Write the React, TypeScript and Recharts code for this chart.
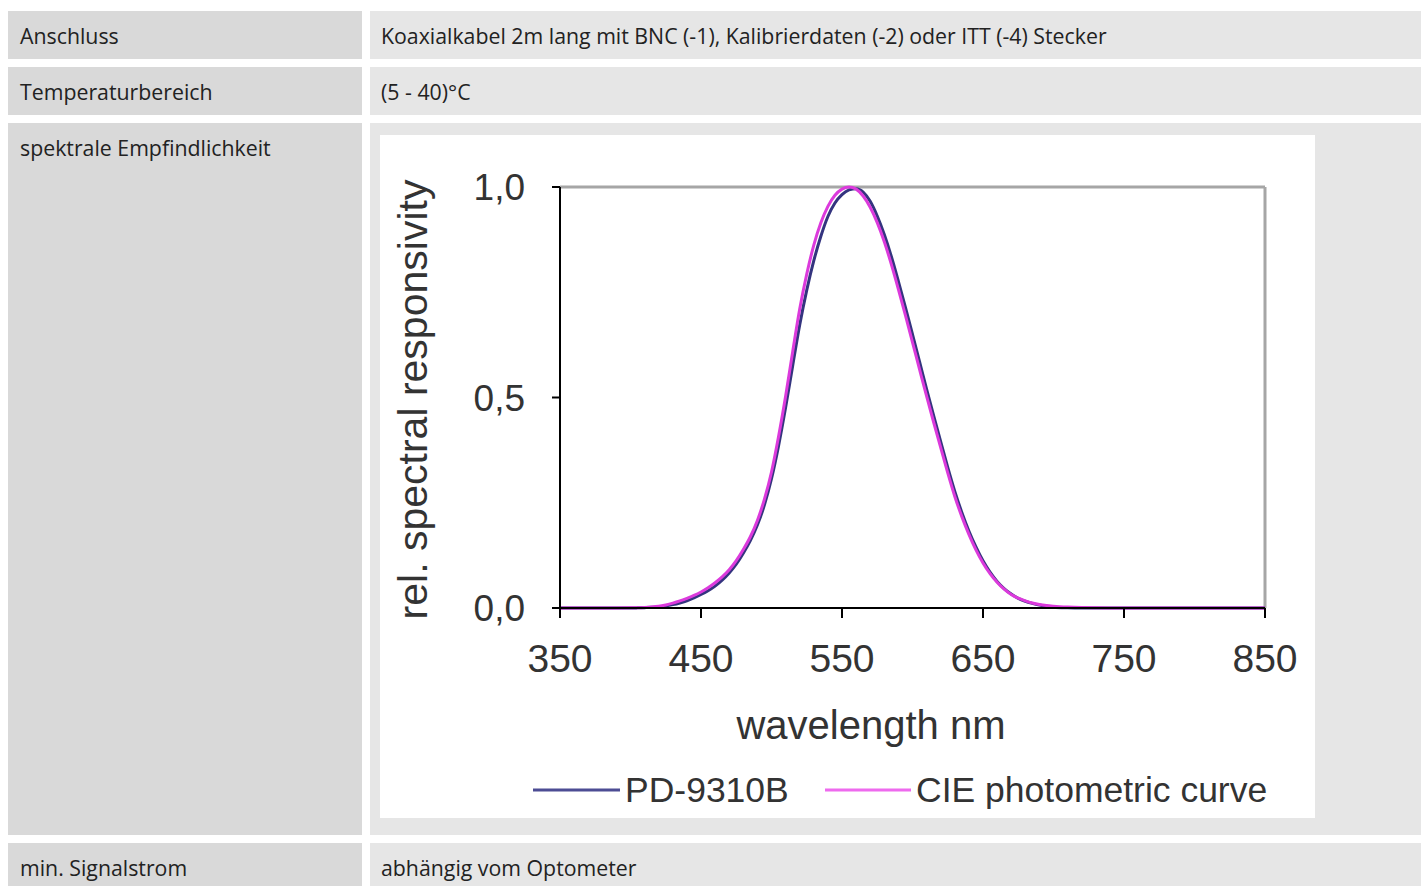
import React from 'react';
import { LineChart, Line, XAxis, YAxis, ReferenceLine, Legend } from 'recharts';

const wavelengths = [
  350, 360, 370, 380, 390, 400, 405, 410, 415, 420, 425, 430, 435, 440, 445, 450,
  455, 460, 465, 470, 475, 480, 485, 490, 495, 500, 505, 510, 515, 520, 525, 530,
  535, 540, 545, 550, 555, 560, 565, 570, 575, 580, 585, 590, 595, 600, 605, 610,
  615, 620, 625, 630, 635, 640, 645, 650, 655, 660, 665, 670, 675, 680, 685, 690,
  695, 700, 710, 720, 730, 740, 750, 760, 770, 780, 790, 800, 810, 820, 830, 840, 850,
];

const cieCurve = [
  0, 0, 0, 0.00004, 0.00012, 0.0004, 0.0006, 0.0012, 0.0022, 0.004, 0.0073, 0.0116, 0.0168, 0.023, 0.0298, 0.038,
  0.048, 0.06, 0.0739, 0.091, 0.1126, 0.139, 0.1693, 0.208, 0.2586, 0.323, 0.4073, 0.503, 0.6082, 0.71, 0.7932, 0.862,
  0.9149, 0.954, 0.9803, 0.995, 1.0, 0.995, 0.9786, 0.952, 0.9154, 0.87, 0.8163, 0.757, 0.6949, 0.631, 0.5668, 0.503,
  0.4412, 0.381, 0.321, 0.265, 0.217, 0.175, 0.1382, 0.107, 0.0816, 0.061, 0.0446, 0.032, 0.0232, 0.017, 0.0119, 0.0082,
  0.0057, 0.0041, 0.0021, 0.001, 0.0005, 0.00025, 0.00012, 0.00006, 0.00003, 0.000015, 0, 0, 0, 0, 0, 0, 0,
];

const pdCurve = [
  0, 0, 0, 0, 0, 0, 0.0003, 0.0008, 0.0015, 0.003, 0.005, 0.008, 0.012, 0.017, 0.024, 0.032,
  0.041, 0.052, 0.066, 0.083, 0.104, 0.13, 0.16, 0.197, 0.245, 0.307, 0.385, 0.476, 0.575, 0.672, 0.755, 0.825,
  0.883, 0.93, 0.962, 0.982, 0.993, 0.996, 0.988, 0.966, 0.931, 0.887, 0.835, 0.776, 0.714, 0.65, 0.585, 0.52,
  0.457, 0.395, 0.334, 0.277, 0.227, 0.183, 0.145, 0.112, 0.085, 0.063, 0.046, 0.033, 0.023, 0.016, 0.011, 0.007,
  0.004, 0.002, 0.0005, 0, 0, 0, 0, 0, 0, 0, 0, 0, 0, 0, 0, 0, 0,
];

const xTicks = [350, 450, 550, 650, 750, 850];
const yTicks = [0, 0.5, 1];
const yTickLabels = ['0,0', '0,5', '1,0'];

const seriesNames = ['PD-9310B', 'CIE photometric curve'];
const seriesColors = ['#34347f', '#dc3adc'];
const legendColors = ['#4c4c94', '#ee6aee'];

const tableRows = [
  { label: 'Anschluss', value: 'Koaxialkabel 2m lang mit BNC (-1), Kalibrierdaten (-2) oder ITT (-4) Stecker' },
  { label: 'Temperaturbereich', value: '(5 - 40)°C' },
  { label: 'spektrale Empfindlichkeit', value: '' },
  { label: 'min. Signalstrom', value: 'abhängig vom Optometer' },
];

const data = wavelengths.map((wl, i) => ({ wl, pd: pdCurve[i], cie: cieCurve[i] }));

const chartFont = '"Liberation Sans", Arial, sans-serif';
const textFill = '#333333';

const rowTops = [11, 67, 123, 843];
const rowHeights = [48, 48, 712, 60];

const YLabel = (props: any) => {
  const vb = props.viewBox || {};
  const cx = vb.x + vb.width - 147;
  const cy = vb.y + vb.height / 2 + 2;
  return (
    <text
      x={cx}
      y={cy}
      transform={`rotate(-90, ${cx}, ${cy})`}
      textAnchor="middle"
      dominantBaseline="central"
      fontSize={41}
      fontFamily={chartFont}
      fill={textFill}
    >
      rel. spectral responsivity
    </text>
  );
};

const XLabel = (props: any) => {
  const vb = props.viewBox || {};
  return (
    <text
      x={vb.x + 311}
      y={vb.y + 131}
      textAnchor="middle"
      fontSize={40}
      fontFamily={chartFont}
      fill={textFill}
    >
      wavelength nm
    </text>
  );
};

const legendLayout = [
  { x1: 153, x2: 240 },
  { x1: 445, x2: 531 },
];

const LegendContent = () => (
  <svg width={935} height={60} style={{ display: 'block' }}>
    {seriesNames.map((name, i) => (
      <g key={name}>
        <line
          x1={legendLayout[i].x1}
          x2={legendLayout[i].x2}
          y1={35}
          y2={35}
          stroke={legendColors[i]}
          strokeWidth={3}
        />
        <text
          x={legendLayout[i].x2 + 5}
          y={47}
          fontSize={35.5}
          fontFamily={chartFont}
          fill={textFill}
        >
          {name}
        </text>
      </g>
    ))}
  </svg>
);

export default function App() {
  return (
    <div
      style={{
        position: 'fixed',
        left: 0,
        top: 0,
        width: 1421,
        height: 886,
        overflow: 'hidden',
        background: '#ffffff',
        fontFamily: '"Open Sans", sans-serif',
        fontSize: 21.3,
        color: '#222222',
      }}
    >
      {tableRows.map((row, i) => (
        <React.Fragment key={row.label}>
          <div
            style={{
              position: 'absolute',
              left: 8,
              top: rowTops[i],
              width: 354,
              height: rowHeights[i],
              background: '#d9d9d9',
            }}
          >
            <div style={{ position: 'absolute', left: 12, top: 10, lineHeight: '29px', whiteSpace: 'nowrap' }}>
              {row.label}
            </div>
          </div>
          <div
            style={{
              position: 'absolute',
              left: 370,
              top: rowTops[i],
              width: 1051,
              height: rowHeights[i],
              background: '#e6e6e6',
            }}
          >
            {row.value ? (
              <div style={{ position: 'absolute', left: 11, top: 10, lineHeight: '29px', whiteSpace: 'nowrap' }}>
                {row.value}
              </div>
            ) : null}
          </div>
        </React.Fragment>
      ))}

      <div style={{ position: 'absolute', left: 380, top: 135, width: 935, height: 683, background: '#ffffff' }}>
        <LineChart
          width={935}
          height={683}
          data={data}
          margin={{ top: 52, right: 50, bottom: 0, left: 0 }}
        >
          <XAxis
            dataKey="wl"
            type="number"
            domain={[350, 850]}
            ticks={xTicks}
            allowDataOverflow
            height={210}
            tickSize={10}
            tickMargin={26}
            axisLine={{ stroke: '#000000', strokeWidth: 2 }}
            tickLine={{ stroke: '#000000', strokeWidth: 2 }}
            tick={{ fontSize: 39, fill: textFill, fontFamily: chartFont }}
            label={<XLabel />}
          />
          <YAxis
            type="number"
            domain={[0, 1]}
            ticks={yTicks}
            width={180}
            tickSize={8}
            tickMargin={27}
            tickFormatter={(v: number) => yTickLabels[yTicks.indexOf(v)]}
            axisLine={{ stroke: '#000000', strokeWidth: 2 }}
            tickLine={{ stroke: '#000000', strokeWidth: 2 }}
            tick={{ fontSize: 37, fill: textFill, fontFamily: chartFont }}
            label={<YLabel />}
          />
          <ReferenceLine y={1} stroke="#a6a6a6" strokeWidth={3} />
          <ReferenceLine x={850} stroke="#a6a6a6" strokeWidth={3} />
          <Line
            type="monotone"
            dataKey="pd"
            name={seriesNames[0]}
            stroke={seriesColors[0]}
            strokeWidth={3}
            dot={false}
            isAnimationActive={false}
          />
          <Line
            type="monotone"
            dataKey="cie"
            name={seriesNames[1]}
            stroke={seriesColors[1]}
            strokeWidth={3}
            dot={false}
            isAnimationActive={false}
          />
          <Legend
            layout="horizontal"
            verticalAlign="middle"
            align="center"
            content={<LegendContent />}
            wrapperStyle={{ position: 'absolute', left: 0, top: 620, width: 935, height: 60 }}
          />
        </LineChart>
      </div>
    </div>
  );
}
